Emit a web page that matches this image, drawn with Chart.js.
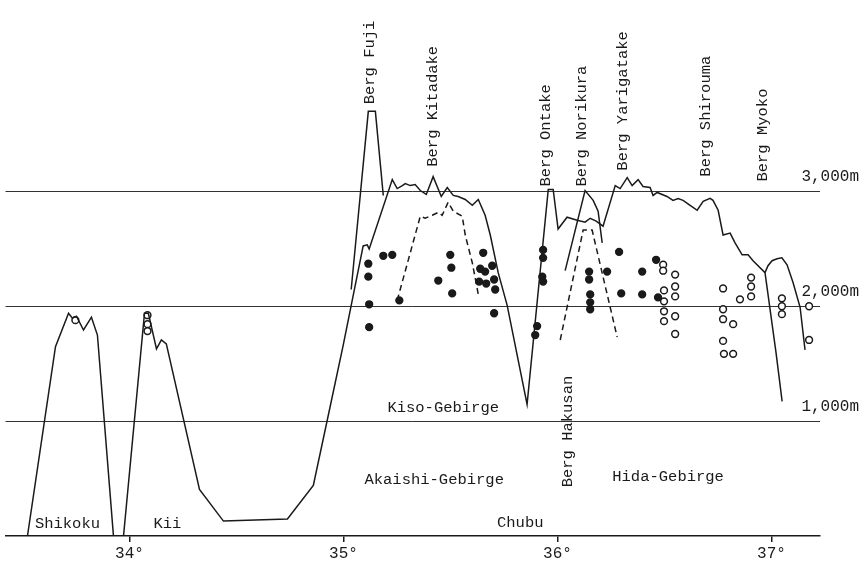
<!DOCTYPE html>
<html>
<head>
<meta charset="utf-8">
<script src="https://cdn.jsdelivr.net/npm/chart.js@4.4.1/dist/chart.umd.min.js"></script>
<style>
html, body { margin: 0; padding: 0; background: #fff; }
canvas { display: block; }
</style>
</head>
<body>
<canvas id="profile" width="863" height="565"></canvas>
<script>
// profile values: [latitude in degrees N, altitude in m]
const mainRidge = [
  [33.523,0],[33.654,1650],[33.715,1942],[33.733,1899],[33.752,1916],[33.785,1796],[33.822,1908],[33.850,1752],
  [33.925,0],[33.972,0],[34.070,1942],[34.088,1942],[34.126,1632],[34.149,1709],[34.172,1675],[34.327,406],
  [34.439,130],[34.738,148],[34.859,441],[34.938,1131],[34.999,1666],[35.092,2529],[35.111,2538],[35.120,2503],
  [35.228,3107],[35.251,3029],[35.275,3055],[35.289,3073],[35.312,3055],[35.335,3064],[35.359,3012],[35.387,2978],
  [35.419,3133],[35.457,2960],[35.485,3038],[35.513,2969],[35.536,2960],[35.569,2934],[35.602,2883],[35.630,2934],
  [35.662,2796],[35.686,2624],[35.723,2296],[35.765,2011],[35.858,1148],[35.957,3021],[35.980,3021],[36.003,2676],
  [36.045,2779],[36.092,2753],[36.129,2736],[36.153,2770],[36.181,2745],[36.213,2701],[36.270,3055],[36.293,3029],
  [36.326,3124],[36.349,3055],[36.377,3107],[36.400,3047],[36.433,3038],[36.447,2969],[36.466,2995],[36.512,2960],
  [36.540,2926],[36.564,2943],[36.587,2926],[36.620,2883],[36.653,2840],[36.681,2917],[36.713,2943],[36.727,2926],
  [36.751,2840],[36.774,2624],[36.807,2641],[36.830,2555],[36.863,2451],[36.891,2451],[36.914,2400],[36.970,2296],
  [37.021,1606],[37.050,1174]
];
const fujiPeak = [[35.036,2149],[35.116,3702],[35.149,3702],[35.186,2969]];
const norikuraArch = [[36.036,2313],[36.129,3012],[36.167,2926],[36.190,2831],[36.209,2555]];
const myokoArch = [
  [36.970,2296],[36.984,2356],[37.003,2400],[37.026,2417],[37.049,2425],[37.073,2365],[37.101,2210],[37.134,1994],[37.157,1623]
];
const kitadakeDashed = [
  [35.251,2054],[35.359,2788],[35.382,2771],[35.415,2796],[35.443,2822],[35.461,2796],[35.489,2909],[35.513,2831],
  [35.555,2788],[35.569,2624],[35.602,2382],[35.630,2106]
];
const norikuraDashed = [[36.013,1709],[36.120,2667],[36.162,2667],[36.279,1735]];

const filledDots = [
  [35.116,2374],[35.116,2261],[35.120,2020],[35.120,1821],[35.186,2443],[35.228,2451],[35.261,2054],[35.443,2227],
  [35.499,2451],[35.504,2339],[35.508,2115],[35.653,2469],[35.639,2330],[35.662,2305],[35.695,2356],[35.704,2236],
  [35.634,2218],[35.667,2201],[35.709,2149],[35.704,1942],[35.933,2494],[35.933,2425],[35.929,2261],[35.933,2218],
  [35.905,1830],[35.896,1752],[36.148,2305],[36.148,2236],[36.153,2106],[36.153,2037],[36.153,1977],[36.288,2477],
  [36.232,2305],[36.298,2115],[36.396,2305],[36.396,2106],[36.461,2408],[36.470,2080]
];
const openDots = [
  [33.747,1882],[34.084,1925],[34.084,1847],[34.084,1787],
  [36.494,2365],[36.494,2313],[36.550,2279],[36.498,2141],[36.550,2175],[36.550,2089],[36.498,2046],[36.498,1959],
  [36.550,1916],[36.498,1873],[36.550,1761],[36.774,2158],[36.774,1977],[36.774,1890],[36.821,1847],[36.774,1701],
  [36.778,1588],[36.821,1588],[36.853,2063],[36.905,2253],[36.905,2175],[36.905,2089],[37.049,2072],[37.049,2003],
  [37.049,1934],[37.176,2003],[37.176,1709]
];

const latTicks = [34, 35, 36, 37];
const altTicks = [1000, 2000, 3000];

// text anchors: [text, latitude, altitude]
const regionLabels = [
  ['Shikoku', 33.710, 104], ['Kii', 34.177, 104], ['Chubu', 35.826, 113],
  ['Kiso-Gebirge', 35.466, 1114], ['Akaishi-Gebirge', 35.424, 493], ['Hida-Gebirge', 36.517, 519]
];
const peakLabels = [
  ['Berg Fuji', 35.125, 3763], ['Berg Kitadake', 35.419, 3219], ['Berg Ontake', 35.947, 3047],
  ['Berg Norikura', 36.115, 3047], ['Berg Yarigatake', 36.307, 3185], ['Berg Shirouma', 36.695, 3133],
  ['Berg Myoko', 36.961, 3090], ['Berg Hakusan', 36.050, 424]
];

const ink = '#1a1a1a';
const mono = '"Liberation Mono", monospace';
const toPoints = pairs => pairs.map(p => ({x: p[0], y: p[1]}));

function lineSet(pairs, dashed) {
  return {
    type: 'line', data: toPoints(pairs), borderColor: ink, borderWidth: 1.5,
    borderDash: dashed ? [6, 4] : [], pointRadius: 0, fill: false, tension: 0
  };
}
function dotSet(pairs, fillColor) {
  return {
    type: 'scatter', data: toPoints(pairs), pointRadius: 3.4, pointBorderWidth: 1.5,
    pointBackgroundColor: fillColor, pointBorderColor: ink
  };
}

const labelPlugin = {
  id: 'profileLabels',
  afterDatasetsDraw(chart) {
    const ctx = chart.ctx, xs = chart.scales.x, ys = chart.scales.y;
    ctx.save();
    ctx.fillStyle = ink;
    ctx.font = '15.5px ' + mono;
    ctx.textBaseline = 'middle';
    ctx.textAlign = 'center';
    regionLabels.forEach(l => ctx.fillText(l[0], xs.getPixelForValue(l[1]), ys.getPixelForValue(l[2])));
    ctx.textAlign = 'left';
    peakLabels.forEach(l => {
      ctx.save();
      ctx.translate(xs.getPixelForValue(l[1]), ys.getPixelForValue(l[2]));
      ctx.rotate(-Math.PI / 2);
      ctx.fillText(l[0], 0, 0);
      ctx.restore();
    });
    ctx.restore();
  }
};

new Chart(document.getElementById('profile'), {
  data: {
    datasets: [
      lineSet(mainRidge, false),
      lineSet(fujiPeak, false),
      lineSet(norikuraArch, false),
      lineSet(myokoArch, false),
      lineSet(kitadakeDashed, true),
      lineSet(norikuraDashed, true),
      dotSet(filledDots, ink),
      dotSet(openDots, '#ffffff')
    ]
  },
  options: {
    responsive: false,
    animation: false,
    layout: { padding: { left: 5, top: 0, right: 0, bottom: 0 } },
    plugins: { legend: { display: false }, tooltip: { enabled: false } },
    scales: {
      x: {
        type: 'linear', position: 'bottom', min: 33.4204, max: 37.227,
        afterBuildTicks: s => { s.ticks = latTicks.map(v => ({value: v})); },
        afterFit: s => { s.height = 29; },
        grid: { drawOnChartArea: false, drawTicks: true, tickLength: 6, color: ink, lineWidth: 1.5 },
        border: { display: true, color: ink, width: 1.5 },
        ticks: { font: { family: mono, size: 16 }, color: ink, padding: 2, callback: v => v + '°' }
      },
      y: {
        type: 'linear', position: 'right', min: 0, max: 4625,
        afterBuildTicks: s => { s.ticks = altTicks.map(v => ({value: v})); },
        afterFit: s => { s.width = 43; s.paddingTop = 0; s.paddingBottom = 0; },
        grid: { drawTicks: false, color: '#333', lineWidth: 1 },
        border: { display: false },
        ticks: {
          mirror: true, font: { family: mono, size: 16 }, color: ink, padding: 39, labelOffset: -15,
          callback: v => v.toLocaleString('en-US') + 'm'
        }
      }
    }
  },
  plugins: [labelPlugin]
});
</script>
</body>
</html>
